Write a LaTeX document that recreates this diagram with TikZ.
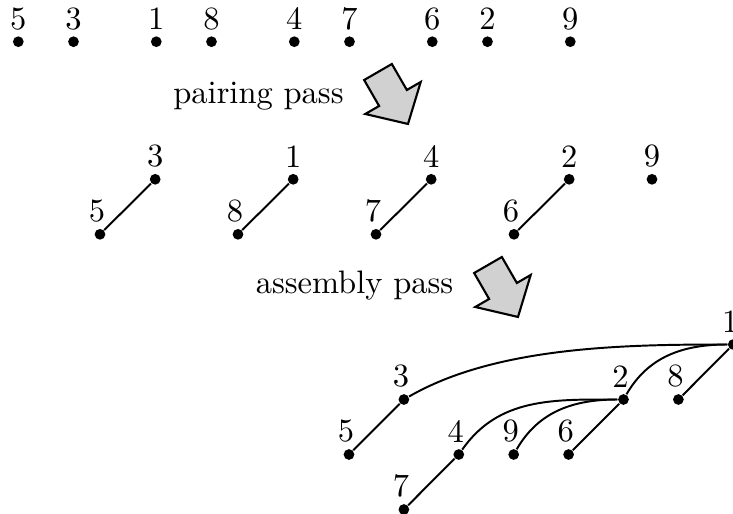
\documentclass[tikz,border=0pt]{standalone}
\begin{document}
\begin{tikzpicture}[x=0.30769pt,y=0.30769pt,
  dot/.style={circle,fill=black,inner sep=0pt,minimum size=3.3pt},
  lab/.style={inner sep=1.6pt},
  labl/.style={inner sep=1.6pt,xshift=-0.9pt},
  edge/.style={line width=0.6pt},
  passtext/.style={anchor=base,inner sep=0pt},
  passarrow/.pic={
    \draw[line width=0.65pt,fill=black!18,line join=miter]
      (-13.86,-8) -- (13.86,8) -- (28.86,-17.98) -- (42.71,-9.98)
      -- (30,-51.96) -- (-12.71,-41.98) -- (1.14,-33.98) -- cycle;
  }]
\useasboundingbox (0,0) rectangle (733,513);

% top row
\node[dot,label={[lab]above:5}] (a5) at (18.3,471.3) {};
\node[dot,label={[lab]above:3}] (a3) at (73.5,471.3) {};
\node[dot,label={[lab]above:1}] (a1) at (156.3,471.3) {};
\node[dot,label={[lab]above:8}] (a8) at (211.5,471.3) {};
\node[dot,label={[lab]above:4}] (a4) at (294.3,471.3) {};
\node[dot,label={[lab]above:7}] (a7) at (349.5,471.3) {};
\node[dot,label={[lab]above:6}] (a6) at (432.3,471.3) {};
\node[dot,label={[lab]above:2}] (a2) at (487.5,471.3) {};
\node[dot,label={[lab]above:9}] (a9) at (570.3,471.3) {};

\node[passtext] (ptext) at (258.5,410) {pairing pass};
\pic at (378,441) {passarrow};

% pairing result
\node[dot,label={[labl]above:5}] (b5) at (100,278.7) {};
\node[dot,label={[lab]above:3}] (b3) at (155.2,333.7) {};
\node[dot,label={[labl]above:8}] (b8) at (238,278.7) {};
\node[dot,label={[lab]above:1}] (b1) at (293.2,333.7) {};
\node[dot,label={[labl]above:7}] (b7) at (376,278.7) {};
\node[dot,label={[lab]above:4}] (b4) at (431.2,333.7) {};
\node[dot,label={[labl]above:6}] (b6) at (514,278.7) {};
\node[dot,label={[lab]above:2}] (b2) at (569.2,333.7) {};
\node[dot,label={[lab]above:9}] (b9) at (652,333.7) {};
\draw[edge] (b5) -- (b3);
\draw[edge] (b8) -- (b1);
\draw[edge] (b7) -- (b4);
\draw[edge] (b6) -- (b2);

\node[passtext] (atext) at (354.5,220) {assembly pass};
\pic at (488,248) {passarrow};

% assembled tree
\node[dot,label={[labl]above:5}] (c5) at (349,58.5) {};
\node[dot,label={[labl]above:3}] (c3) at (403.9,113.5) {};
\node[dot,label={[labl]above:7}] (c7) at (403.9,3.5) {};
\node[dot,label={[labl]above:4}] (c4) at (458.8,58.5) {};
\node[dot,label={[labl]above:9}] (c9) at (513.7,58.5) {};
\node[dot,label={[labl]above:6}] (c6) at (568.6,58.5) {};
\node[dot,label={[labl]above:2}] (c2) at (623.5,113.5) {};
\node[dot,label={[labl]above:8}] (c8) at (678.4,113.5) {};
\node[dot,label={[labl]above:1}] (c1) at (733.3,168.5) {};
\draw[edge] (c5) -- (c3);
\draw[edge] (c7) -- (c4);
\draw[edge] (c6) -- (c2);
\draw[edge] (c8) -- (c1);
\draw[edge] (c3) to[out=30,in=180,looseness=0.8] (c1);
\draw[edge] (c2) to[out=60,in=180] (c1);
\draw[edge] (c4) to[out=55,in=180] (c2);
\draw[edge] (c9) to[out=60,in=180] (c2);
\end{tikzpicture}
\end{document}
